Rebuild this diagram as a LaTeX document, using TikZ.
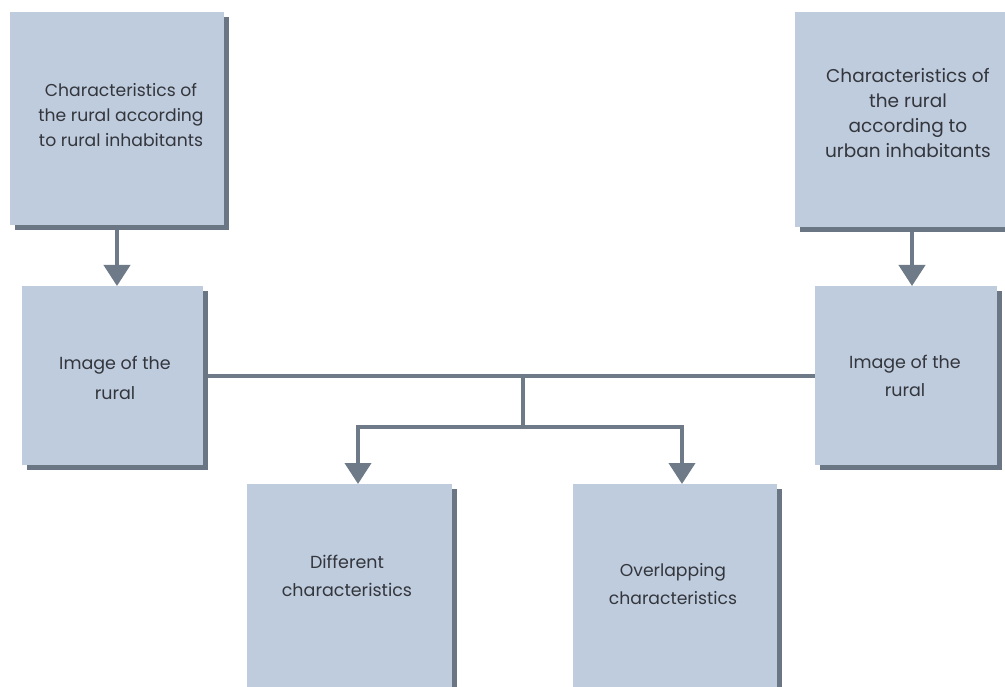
\documentclass[tikz,border=0pt]{standalone}
\usepackage{fontspec}
\setmainfont{Poppins}
\usetikzlibrary{shadows,arrows.meta}
\definecolor{boxfill}{HTML}{BFCCDE}
\definecolor{shadowc}{HTML}{6B7684}
\definecolor{linec}{HTML}{6E7A87}
\definecolor{textc}{HTML}{33363C}
\tikzset{
  panel/.style={rectangle, fill=boxfill, inner sep=0pt, anchor=north west,
    drop shadow={shadow xshift=5pt, shadow yshift=-5pt, fill=shadowc, opacity=1}},
  lbl/.style={align=center, text=textc, inner sep=0pt},
  conn/.style={draw=linec, line width=4pt},
  arr/.style={conn, -{Triangle[width=26pt,length=21pt]}}
}
\begin{document}
\begin{tikzpicture}[x=1pt,y=-1pt]
\clip (0,0) rectangle (1005,687);
\fill[white] (0,0) rectangle (1005,687);
% junction points
\coordinate (ja) at (523,378);
\coordinate (jb) at (523,427);
\coordinate (jl) at (358,427);
\coordinate (jr) at (682,427);
\coordinate (ta) at (117,230);
\coordinate (tb) at (912,232);
% boxes
\node[panel, minimum width=214pt, minimum height=213pt] (tl) at (10,12) {};
\node[panel, minimum width=234pt, minimum height=215pt] (tr) at (795,12) {};
\node[panel, minimum width=181pt, minimum height=179pt] (ll) at (22,286) {};
\node[panel, minimum width=182pt, minimum height=179pt] (rr) at (815,286) {};
\node[panel, minimum width=205pt, minimum height=240pt] (bl) at (247,484) {};
\node[panel, minimum width=204pt, minimum height=240pt] (br) at (573,484) {};
% connectors
\draw[arr] (ta) -- (ta |- ll.north);
\draw[arr] (tb) -- (tb |- rr.north);
\draw[conn] (ll.east) ++(5,0) coordinate (le) -- (rr.west);
\draw[conn] (ja) -- (jb);
\draw[conn, line cap=rect] (jl) -- (jr);
\draw[arr] (jl) -- (jl |- bl.north);
\draw[arr] (jr) -- (jr |- br.north);
% labels
\node[lbl, font=\fontsize{17.2}{25}\selectfont] (tlt) at (121,115) {Characteristics of\\the rural according\\to rural inhabitants};
\node[lbl, font=\fontsize{18.5}{25}\selectfont] (trt) at (908,113) {Characteristics of\\the rural\\according to\\urban inhabitants};
\node[lbl, font=\fontsize{17.5}{30}\selectfont] (llt) at (115,378) {Image of the\\rural};
\node[lbl, font=\fontsize{17.5}{28}\selectfont] (rrt) at (905,376) {Image of the\\rural};
\node[lbl, font=\fontsize{17.5}{28}\selectfont] (blt) at (347,576) {Different\\characteristics};
\node[lbl, font=\fontsize{17.2}{28}\selectfont] (brt) at (673,584) {Overlapping\\characteristics};
\end{tikzpicture}
\end{document}
